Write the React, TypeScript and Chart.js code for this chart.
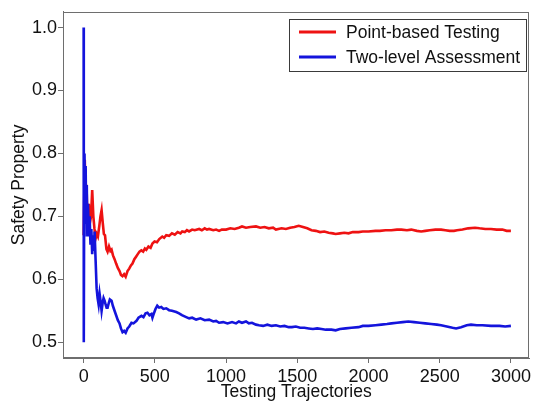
import React, { useEffect, useRef } from 'react';
import { Chart, registerables } from 'chart.js';

Chart.register(...registerables);

// Series names and colours
const seriesLabels = ['Point-based Testing', 'Two-level Assessment'];
const seriesColors = ['#ee1212', '#1414dc'];

// Axis ticks
const xTicks = [0, 500, 1000, 1500, 2000, 2500, 3000];
const yTicks = [0.5, 0.6, 0.7, 0.8, 0.9, 1.0];

// Point-based Testing (red)
const pointTrajectories = [
  0, 8, 14, 20, 28, 36, 44, 52, 60, 68, 76, 84, 92, 100, 110, 118, 126, 134, 142, 150,
  160, 168, 178, 188, 196, 206, 217, 228, 240, 252, 262, 273, 284, 295, 308, 320, 332, 343, 356, 368,
  380, 392, 405, 418, 430, 440, 455, 470, 483, 498, 515, 531, 552, 565, 580, 600, 620, 640, 660, 680,
  692, 710, 725, 740, 762, 780, 811, 830, 850, 866, 881, 910, 930, 951, 970, 1000, 1030, 1060, 1090, 1112,
  1140, 1170, 1210, 1240, 1270, 1300, 1330, 1350, 1390, 1420, 1450, 1480, 1510, 1540, 1570, 1600, 1630, 1660, 1690, 1720,
  1750, 1769, 1800, 1830, 1860, 1890, 1930, 1960, 2000, 2049, 2080, 2120, 2160, 2200, 2231, 2270, 2300, 2340, 2370, 2399,
  2430, 2470, 2510, 2540, 2570, 2600, 2622, 2660, 2700, 2748, 2780, 2820, 2860, 2900, 2940, 2970, 3000,
];
const pointSafety = [
  0.67, 0.79, 0.72, 0.75, 0.68, 0.72, 0.69, 0.70, 0.742, 0.70, 0.68, 0.665, 0.672, 0.668, 0.685, 0.70, 0.71, 0.69, 0.672, 0.67,
  0.648, 0.644, 0.652, 0.645, 0.647, 0.638, 0.632, 0.625, 0.618, 0.613, 0.607, 0.605, 0.608, 0.604, 0.613, 0.617, 0.622, 0.625, 0.632, 0.636,
  0.640, 0.644, 0.646, 0.644, 0.649, 0.647, 0.652, 0.650, 0.657, 0.660, 0.659, 0.664, 0.668, 0.666, 0.670, 0.669, 0.673, 0.671, 0.675, 0.673,
  0.676, 0.675, 0.678, 0.676, 0.679, 0.678, 0.680, 0.678, 0.681, 0.679, 0.680, 0.678, 0.679, 0.677, 0.679, 0.679, 0.681, 0.680, 0.682, 0.684,
  0.682, 0.683, 0.684, 0.682, 0.683, 0.681, 0.682, 0.679, 0.681, 0.680, 0.682, 0.683, 0.685, 0.683, 0.681, 0.678, 0.677, 0.675, 0.676, 0.674,
  0.673, 0.672, 0.673, 0.674, 0.673, 0.675, 0.675, 0.676, 0.676, 0.677, 0.677, 0.678, 0.678, 0.679, 0.679, 0.678, 0.679, 0.677, 0.676, 0.677,
  0.678, 0.679, 0.679, 0.678, 0.677, 0.677, 0.678, 0.679, 0.681, 0.682, 0.681, 0.680, 0.680, 0.679, 0.679, 0.677, 0.677,
];

// Two-level Assessment (blue)
const twoLevelTrajectories = [
  0, 1, 3, 6, 10, 14, 18, 22, 26, 30, 36, 42, 48, 54, 60, 66, 72, 77, 84, 91,
  98, 105, 112, 119, 126, 133, 140, 147, 154, 161, 168, 176, 184, 196, 205, 217, 228, 240, 252, 262,
  273, 284, 295, 308, 320, 336, 350, 371, 385, 406, 420, 435, 448, 462, 476, 483, 495, 505, 517, 530,
  545, 560, 580, 600, 620, 650, 670, 690, 720, 741, 762, 790, 820, 850, 881, 910, 930, 951, 980, 1010,
  1042, 1070, 1090, 1112, 1140, 1160, 1182, 1210, 1231, 1260, 1290, 1320, 1350, 1380, 1410, 1440, 1462, 1490, 1520, 1550,
  1580, 1610, 1640, 1670, 1700, 1740, 1769, 1800, 1840, 1880, 1930, 1960, 2000, 2049, 2090, 2130, 2161, 2200, 2240, 2280,
  2320, 2360, 2399, 2440, 2480, 2510, 2550, 2590, 2615, 2650, 2690, 2720, 2760, 2800, 2860, 2920, 2960, 3000,
];
const twoLevelSafety = [
  1.0, 0.5, 0.67, 0.8, 0.72, 0.78, 0.69, 0.75, 0.67, 0.72, 0.675, 0.70, 0.655, 0.68, 0.64, 0.67, 0.645, 0.676, 0.63, 0.586,
  0.57, 0.56, 0.577, 0.565, 0.55, 0.562, 0.57, 0.566, 0.56, 0.555, 0.555, 0.562, 0.568, 0.566, 0.558, 0.55, 0.543, 0.535, 0.53, 0.522,
  0.516, 0.518, 0.515, 0.522, 0.525, 0.531, 0.53, 0.534, 0.539, 0.542, 0.54, 0.546, 0.547, 0.543, 0.545, 0.539, 0.547, 0.553, 0.558, 0.555,
  0.556, 0.553, 0.554, 0.551, 0.550, 0.548, 0.546, 0.543, 0.540, 0.538, 0.539, 0.536, 0.538, 0.535, 0.536, 0.533, 0.534, 0.531, 0.532, 0.530,
  0.532, 0.530, 0.533, 0.531, 0.533, 0.530, 0.531, 0.528, 0.527, 0.526, 0.528, 0.526, 0.527, 0.525, 0.526, 0.524, 0.524, 0.525, 0.523, 0.523,
  0.522, 0.521, 0.522, 0.521, 0.52, 0.52, 0.519, 0.521, 0.522, 0.523, 0.524, 0.526, 0.526, 0.527, 0.528, 0.529, 0.53, 0.531, 0.532, 0.533,
  0.532, 0.531, 0.53, 0.529, 0.528, 0.527, 0.525, 0.523, 0.522, 0.524, 0.527, 0.528, 0.527, 0.527, 0.526, 0.526, 0.525, 0.526,
];

const FONT = '"Liberation Sans", Arial, Helvetica, sans-serif';

// Draws the full box around the plot and the framed legend in the top right corner
const frameAndLegend = {
  id: 'frameAndLegend',
  afterDraw(chart: Chart) {
    const { ctx, chartArea } = chart;
    ctx.save();
    ctx.strokeStyle = '#6e6e6e';
    ctx.lineWidth = 1;
    ctx.strokeRect(
      Math.round(chartArea.left) + 0.5,
      Math.round(chartArea.top) + 0.5,
      Math.round(chartArea.right - chartArea.left) - 1,
      Math.round(chartArea.bottom - chartArea.top) - 1
    );

    const right = Math.round(chartArea.right) - 2;
    const left = right - 238;
    const top = Math.round(chartArea.top) + 7;
    const height = 52;
    const rowGap = 25;

    ctx.fillStyle = '#ffffff';
    ctx.fillRect(left, top, right - left, height);
    ctx.strokeStyle = '#3a3a3a';
    ctx.strokeRect(left + 0.5, top + 0.5, right - left - 1, height);

    ctx.font = `17.5px ${FONT}`;
    seriesLabels.forEach((label, i) => {
      const y = top + 13 + i * rowGap;
      ctx.strokeStyle = seriesColors[i];
      ctx.lineWidth = 3;
      ctx.beginPath();
      ctx.moveTo(left + 10, y);
      ctx.lineTo(left + 47, y);
      ctx.stroke();
      ctx.fillStyle = '#111111';
      ctx.textBaseline = 'middle';
      ctx.textAlign = 'left';
      ctx.fillText(label, left + 57, y + 1);
    });
    ctx.restore();
  },
};

const SafetyChart: React.FC = () => {
  const chartRef = useRef<HTMLCanvasElement>(null);
  const chartInstance = useRef<Chart | null>(null);

  useEffect(() => {
    if (!chartRef.current) return;
    const ctx = chartRef.current.getContext('2d');
    if (!ctx) return;

    chartInstance.current = new Chart(ctx, {
      type: 'line',
      data: {
        datasets: [
          {
            label: seriesLabels[0],
            data: pointTrajectories.map((x, i) => ({ x, y: pointSafety[i] })),
            borderColor: seriesColors[0],
            borderWidth: 2.6,
            pointRadius: 0,
            tension: 0,
            order: 1,
          },
          {
            label: seriesLabels[1],
            data: twoLevelTrajectories.map((x, i) => ({ x, y: twoLevelSafety[i] })),
            borderColor: seriesColors[1],
            borderWidth: 2.6,
            pointRadius: 0,
            tension: 0,
            order: 0,
          },
        ],
      },
      options: {
        animation: false,
        responsive: false,
        layout: { padding: { top: 7, right: 2, left: 0, bottom: 0 } },
        plugins: {
          legend: { display: false },
          tooltip: { enabled: false },
        },
        scales: {
          x: {
            type: 'linear',
            min: -145,
            max: 3130,
            afterBuildTicks: (scale: any) => {
              scale.ticks = xTicks.map(value => ({ value }));
            },
            afterFit: (scale: any) => {
              scale.height = 49;
            },
            grid: { drawOnChartArea: false, tickLength: 5, color: '#6e6e6e' },
            border: { color: '#6e6e6e' },
            ticks: {
              maxRotation: 0,
              padding: 3,
              color: '#111111',
              font: { family: FONT, size: 18 },
              callback: (value: any) => String(value),
            },
            title: {
              display: true,
              text: 'Testing Trajectories',
              color: '#111111',
              font: { family: FONT, size: 17.5, lineHeight: 1.2 },
              padding: { top: 0, bottom: 4 },
            },
          },
          y: {
            type: 'linear',
            min: 0.475,
            max: 1.025,
            afterBuildTicks: (scale: any) => {
              scale.ticks = yTicks.map(value => ({ value }));
            },
            afterFit: (scale: any) => {
              scale.width = 63;
            },
            grid: { drawOnChartArea: false, tickLength: 5, color: '#6e6e6e' },
            border: { color: '#6e6e6e' },
            ticks: {
              padding: 1,
              color: '#111111',
              font: { family: FONT, size: 18 },
              callback: (value: any) => Number(value).toFixed(1),
            },
            title: {
              display: true,
              text: 'Safety Property',
              color: '#111111',
              font: { family: FONT, size: 17.5, lineHeight: 1.2 },
              padding: { top: 9, bottom: 0 },
            },
          },
        },
      },
      plugins: [frameAndLegend],
    });

    return () => {
      if (chartInstance.current) {
        chartInstance.current.destroy();
        chartInstance.current = null;
      }
    };
  }, []);

  return (
    <div style={{ position: 'fixed', left: 0, top: 0, width: 534, height: 407, background: '#ffffff' }}>
      <canvas ref={chartRef} width={534} height={407} />
    </div>
  );
};

export default function App() {
  return <SafetyChart />;
}
